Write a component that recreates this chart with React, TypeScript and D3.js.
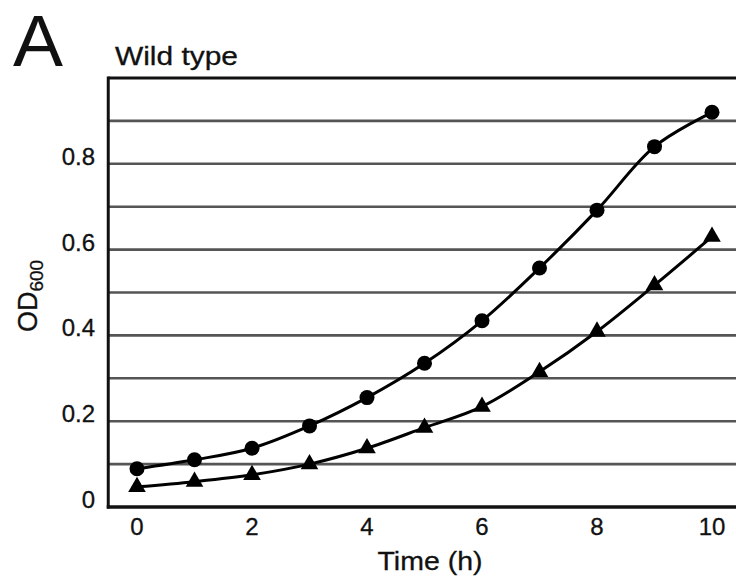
import React from "react";
import * as d3 from "d3";

const times = [0, 1, 2, 3, 4, 5, 6, 7, 8, 9, 10];
const circleSeries = [0.089, 0.11, 0.137, 0.189, 0.255, 0.335, 0.434, 0.557, 0.692, 0.84, 0.92];
const triangleSeries = [0.047, 0.059, 0.075, 0.1, 0.137, 0.185, 0.234, 0.315, 0.409, 0.517, 0.63];
const xTicks = [0, 2, 4, 6, 8, 10];
const yTickLabels = ["0", "0.2", "0.4", "0.6", "0.8"];
const yTickValues = [0, 0.2, 0.4, 0.6, 0.8];
const gridValues = [0.1, 0.2, 0.3, 0.4, 0.5, 0.6, 0.7, 0.8, 0.9];

const W = 736;
const H = 577;
const FONT = "'Liberation Sans', Arial, Helvetica, sans-serif";

export default function App() {
  const x = d3.scaleLinear().domain([0, 10]).range([137, 712]);
  const y = d3.scaleLinear().domain([0, 1]).range([507, 78]);
  const left = x(-0.5);
  const right = W + 10;

  const line = d3
    .line<number>()
    .x((_, i) => x(times[i]))
    .y((d) => y(d))
    .curve(d3.curveCatmullRom.alpha(0.5));

  const tri = d3.symbol().type(d3.symbolTriangle).size(135)();

  return (
    <svg
      width={W}
      height={H}
      style={{ position: "absolute", left: 0, top: 0, background: "#fff" }}
    >
      <rect x={0} y={0} width={W} height={H} fill="#fff" />
      {/* Panel letter */}
      <text x={13} y={66} fontFamily={FONT} fontSize={72} textLength={50} lengthAdjust="spacingAndGlyphs" fill="#111">
        A
      </text>
      <text x={115} y={65} fontFamily={FONT} fontSize={25} textLength={123} lengthAdjust="spacingAndGlyphs" fill="#111" stroke="#111" strokeWidth={0.3}>
        Wild type
      </text>

      {/* gridlines */}
      {gridValues.map((v) => (
        <line key={v} x1={left} x2={right} y1={y(v)} y2={y(v)} stroke="#555" strokeWidth={2.6} />
      ))}

      {/* frame */}
      <line x1={left} x2={right} y1={y(1)} y2={y(1)} stroke="#111" strokeWidth={3} />
      <line x1={left} x2={left} y1={y(1) - 1.5} y2={y(0) + 1.5} stroke="#111" strokeWidth={3} />
      <line x1={left - 1.5} x2={right} y1={y(0)} y2={y(0)} stroke="#111" strokeWidth={3.5} />

      {/* y tick labels */}
      {yTickValues.map((v, i) => (
        <text
          key={v}
          x={95}
          y={y(v) + 1}
          textAnchor="end"
          fontFamily={FONT}
          fontSize={24}
          fill="#111"
          stroke="#111"
          strokeWidth={0.3}
        >
          {yTickLabels[i]}
        </text>
      ))}

      {/* x tick labels */}
      {xTicks.map((t) => (
        <text key={t} x={x(t)} y={535} textAnchor="middle" fontFamily={FONT} fontSize={24} fill="#111" stroke="#111" strokeWidth={0.3}>
          {t}
        </text>
      ))}

      {/* axis titles */}
      <text x={430} y={570} textAnchor="middle" fontFamily={FONT} fontSize={26} textLength={105} lengthAdjust="spacingAndGlyphs" fill="#111" stroke="#111" strokeWidth={0.3}>
        Time (h)
      </text>
      <text transform="translate(37,296) rotate(-90)" textAnchor="middle" fontFamily={FONT} fontSize={27} fill="#111" stroke="#111" strokeWidth={0.3}>
        OD
        <tspan fontSize={19} dy={6}>600</tspan>
      </text>

      {/* series lines */}
      <path d={line(circleSeries) || ""} fill="none" stroke="#000" strokeWidth={3} />
      <path d={line(triangleSeries) || ""} fill="none" stroke="#000" strokeWidth={3} />

      {/* markers */}
      {circleSeries.map((v, i) => (
        <circle key={"c" + i} cx={x(times[i])} cy={y(v)} r={7.5} fill="#000" />
      ))}
      {triangleSeries.map((v, i) => (
        <path key={"t" + i} d={tri || ""} transform={`translate(${x(times[i])},${y(v)})`} fill="#000" />
      ))}
    </svg>
  );
}
